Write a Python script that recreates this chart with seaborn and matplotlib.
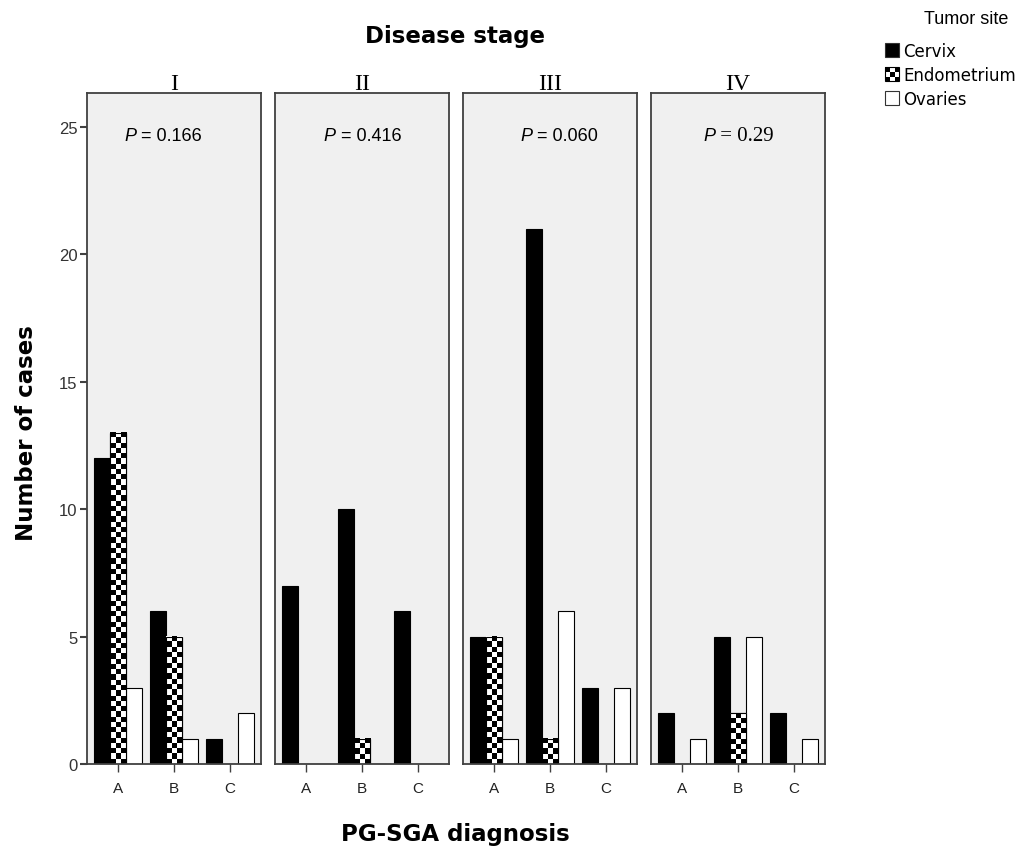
import numpy as np
import pandas as pd
import matplotlib
matplotlib.use("Agg")
import matplotlib.pyplot as plt
import seaborn as sns
from matplotlib.patches import Rectangle
from matplotlib.legend_handler import HandlerBase

# data
stages = ["I", "II", "III", "IV"]
diagnoses = ["A", "B", "C"]
sites = ["Cervix", "Endometrium", "Ovaries"]
p_labels = ["0.166", "0.416", "0.060", "0.29"]

cervix = {"I": [12, 6, 1], "II": [7, 10, 6], "III": [5, 21, 3], "IV": [2, 5, 2]}
endometrium = {"I": [13, 5, 0], "II": [0, 1, 0], "III": [5, 1, 0], "IV": [0, 2, 0]}
ovaries = {"I": [3, 1, 2], "II": [0, 0, 0], "III": [1, 6, 3], "IV": [1, 5, 1]}

rows = []
for stage in stages:
    for site, table in zip(sites, [cervix, endometrium, ovaries]):
        for diag, n in zip(diagnoses, table[stage]):
            rows.append({"stage": stage, "site": site, "diag": diag, "count": n})
df = pd.DataFrame(rows)

palette = {"Cervix": "black", "Endometrium": "white", "Ovaries": "white"}
p_xpos = [0.213, 0.28, 0.33, 0.30]

sns.set_style("white")
plt.rcParams["font.family"] = ["Liberation Sans", "DejaVu Sans"]
plt.rcParams["text.color"] = "black"

fig = plt.figure(figsize=(10.26, 8.53), dpi=100)

left, width, gap = 87 / 1026, 174 / 1026, 14 / 1026
bottom, height = 88 / 853, 671 / 853
ymax = 26.33
CELL = 5.3  # checker square size in pixels


def add_checker(ax, patch):
    x, y = patch.get_x(), patch.get_y()
    w, h = patch.get_width(), patch.get_height()
    if h <= 0:
        return
    p0 = ax.transData.transform((x, y))
    p1 = ax.transData.transform((x + w, y + h))
    ncol = max(1, int(round((p1[0] - p0[0]) / CELL)))
    nrow = max(1, int(round((p1[1] - p0[1]) / CELL)))
    ii, jj = np.indices((nrow, ncol))
    board = ((ii + jj) % 2).astype(float)
    ax.imshow(board, extent=(x, x + w, y, y + h), origin="lower", cmap="gray",
              vmin=0, vmax=1, aspect="auto", interpolation="nearest",
              zorder=patch.get_zorder() + 0.1)
    ax.add_patch(Rectangle((x, y), w, h, fill=False, edgecolor="black",
                           linewidth=0.8, zorder=patch.get_zorder() + 0.2))


for i, stage in enumerate(stages):
    ax = fig.add_axes([left + i * (width + gap), bottom, width, height])
    sub = df[df["stage"] == stage]
    sns.barplot(data=sub, x="diag", y="count", hue="site", order=diagnoses,
                hue_order=sites, palette=palette, width=0.86, edgecolor="black",
                linewidth=0.8, saturation=1, errorbar=None, legend=False, ax=ax)
    ax.set_facecolor("#f0f0f0")
    ax.set_xlim(-0.55, 2.55)
    ax.set_ylim(0, ymax)
    for cont, site in zip(ax.containers, sites):
        if site == "Endometrium":
            for patch in cont.patches:
                add_checker(ax, patch)
    ax.set_xlim(-0.55, 2.55)
    ax.set_ylim(0, ymax)

    for sp in ax.spines.values():
        sp.set_color("#404040")
        sp.set_linewidth(1.3)
    ax.set_xlabel("")
    ax.set_ylabel("")
    ax.tick_params(axis="x", direction="out", length=6, width=1, color="#404040",
                   labelsize=11, labelcolor="#222222", bottom=True, pad=6)
    if i == 0:
        ax.set_yticks([0, 5, 10, 15, 20, 25])
        ax.tick_params(axis="y", direction="out", length=5, width=1.5, color="#404040",
                       labelsize=12, labelcolor="#333333", left=True, pad=2)
    else:
        ax.set_yticks([])
    ax.set_title(stage, family="Liberation Serif", fontsize=17, pad=3, color="black")

    ptxt = ax.text(p_xpos[i], 0.936, "P", transform=ax.transAxes, ha="left",
                   va="center", fontsize=13, fontstyle="italic")
    if stage == "IV":
        ax.annotate(" = " + p_labels[i], xy=(1, 0.5), xycoords=ptxt, ha="left",
                    va="center", fontsize=15, family="Liberation Serif")
    else:
        ax.annotate(" = " + p_labels[i], xy=(1, 0.5), xycoords=ptxt, ha="left",
                    va="center", fontsize=13)

fig.text(455 / 1026, 1 - 37 / 853, "Disease stage", ha="center", va="center",
         fontsize=16.5, fontweight="bold", family="DejaVu Sans")
fig.text(27 / 1026, 1 - 433 / 853, "Number of cases", ha="center", va="center",
         rotation=90, fontsize=16.5, fontweight="bold", family="DejaVu Sans")
fig.text(455 / 1026, 1 - 835 / 853, "PG-SGA diagnosis", ha="center", va="center",
         fontsize=16.5, fontweight="bold", family="DejaVu Sans")


class CheckerHandler(HandlerBase):
    def create_artists(self, legend, orig_handle, xdescent, ydescent, width,
                       height, fontsize, trans):
        side = min(width, height)
        x0, y0 = -xdescent, -ydescent
        n = 3
        s = side / n
        arts = [Rectangle((x0, y0), side, side, facecolor="white",
                          edgecolor="none", transform=trans)]
        for r in range(n):
            for c in range(n):
                if (r + c) % 2 == 0:
                    arts.append(Rectangle((x0 + c * s, y0 + r * s), s, s,
                                          facecolor="black", edgecolor="none",
                                          transform=trans))
        arts.append(Rectangle((x0, y0), side, side, fill=False,
                              edgecolor="black", linewidth=0.8, transform=trans))
        return arts


class SquareHandler(HandlerBase):
    def create_artists(self, legend, orig_handle, xdescent, ydescent, width,
                       height, fontsize, trans):
        side = min(width, height)
        return [Rectangle((-xdescent, -ydescent), side, side,
                          facecolor=orig_handle.get_facecolor(),
                          edgecolor="#333333", linewidth=0.8, transform=trans)]


fig.text(1008 / 1026, 1 - 20 / 853, "Tumor site", ha="right", va="center",
         fontsize=13, family="Liberation Sans")

h_cervix = Rectangle((0, 0), 1, 1, facecolor="black")
h_endo = Rectangle((0, 0), 1, 1, facecolor="white")
h_ova = Rectangle((0, 0), 1, 1, facecolor="white")
leg = fig.legend([h_cervix, h_endo, h_ova], sites,
                 loc="upper left", bbox_to_anchor=(885 / 1026, 1 - 43 / 853),
                 frameon=False, prop={"family": "DejaVu Sans", "size": 12},
                 handlelength=0.95, handleheight=0.95, handletextpad=0.15,
                 labelspacing=0.35, borderaxespad=0, borderpad=0,
                 handler_map={h_cervix: SquareHandler(), h_endo: CheckerHandler(),
                              h_ova: SquareHandler()})
for t in leg.get_texts():
    t.set_color("black")

fig.savefig("out.png", dpi=100)
